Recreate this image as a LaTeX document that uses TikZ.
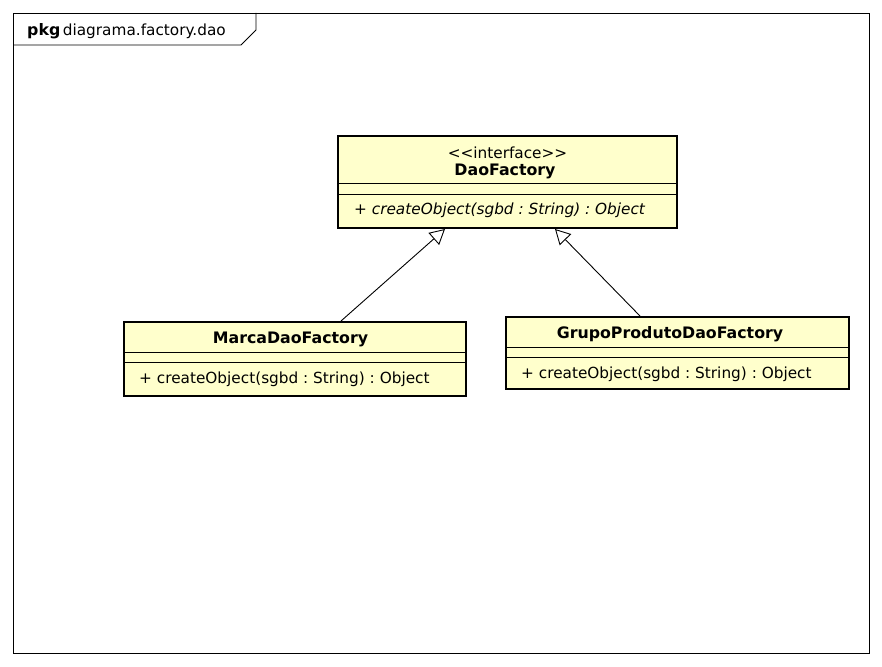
\documentclass[tikz,border=0pt]{standalone}
\usepackage{fontspec}
\setmainfont[Ligatures=NoCommon]{DejaVu Sans}
\usetikzlibrary{arrows.meta}
\definecolor{classfill}{HTML}{FFFFCC}
\frenchspacing
\tikzset{
  x=1pt, y=-1pt,
  classbox/.style={draw, line width=2.6pt, fill=classfill},
  sepline/.style={line width=0.9pt},
  txt/.style={inner sep=0pt, font=\fontsize{15.3}{18}\selectfont},
  bold/.style={inner sep=0pt, font=\fontsize{15.8}{18}\selectfont\bfseries},
  realize/.style={line width=0.9pt, -{Triangle[open, length=15pt, width=16pt, fill=white, line width=0.9pt]}},
}
\begin{document}
\begin{tikzpicture}
\useasboundingbox (0,0) rectangle (882,666);
\fill[white] (0,0) rectangle (882,666);

% package frame with name tab
\draw[line width=0.9pt] (13,13) rectangle (869,653);
\draw[line width=0.9pt] (13,45) -- (241,45) -- (256,30) -- (256,13);
\node[txt, anchor=west] (pkg) at (27,31) {{\fontsize{15.8}{18}\selectfont\bfseries pkg}\,diagrama.factory.dao};

% interface DaoFactory
\draw[classbox] (338,136) rectangle (677,228);
\draw[sepline] (338,183) -- (677,183);
\draw[sepline] (338,194) -- (677,194);
\node[txt] (ster) at (507.5,153) {{<}{<}interface{>}{>}};
\node[bold] (dao) at (505,171) {DaoFactory};
\node[txt, anchor=west] (daom) at (354,210.5) {\itshape + createObject(sgbd : String) : Object};
\coordinate (daoL) at (445,229);
\coordinate (daoR) at (555,229);

% MarcaDaoFactory
\draw[classbox] (124,322) rectangle (466,396);
\draw[sepline] (124,352) -- (466,352);
\draw[sepline] (124,362) -- (466,362);
\node[bold] (marca) at (290.5,339) {MarcaDaoFactory};
\node[txt, anchor=west] (marcam) at (139,379) {+ createObject(sgbd : String) : Object};
\coordinate (marcaT) at (341,321);

% GrupoProdutoDaoFactory
\draw[classbox] (506,317) rectangle (849,389);
\draw[sepline] (506,347) -- (849,347);
\draw[sepline] (506,357) -- (849,357);
\node[bold] (grupo) at (670,334) {GrupoProdutoDaoFactory};
\node[txt, anchor=west] (grupom) at (521,374) {+ createObject(sgbd : String) : Object};
\coordinate (grupoT) at (640,316);

% realizations
\draw[realize] (marcaT) -- (daoL);
\draw[realize] (grupoT) -- (daoR);
\end{tikzpicture}
\end{document}
